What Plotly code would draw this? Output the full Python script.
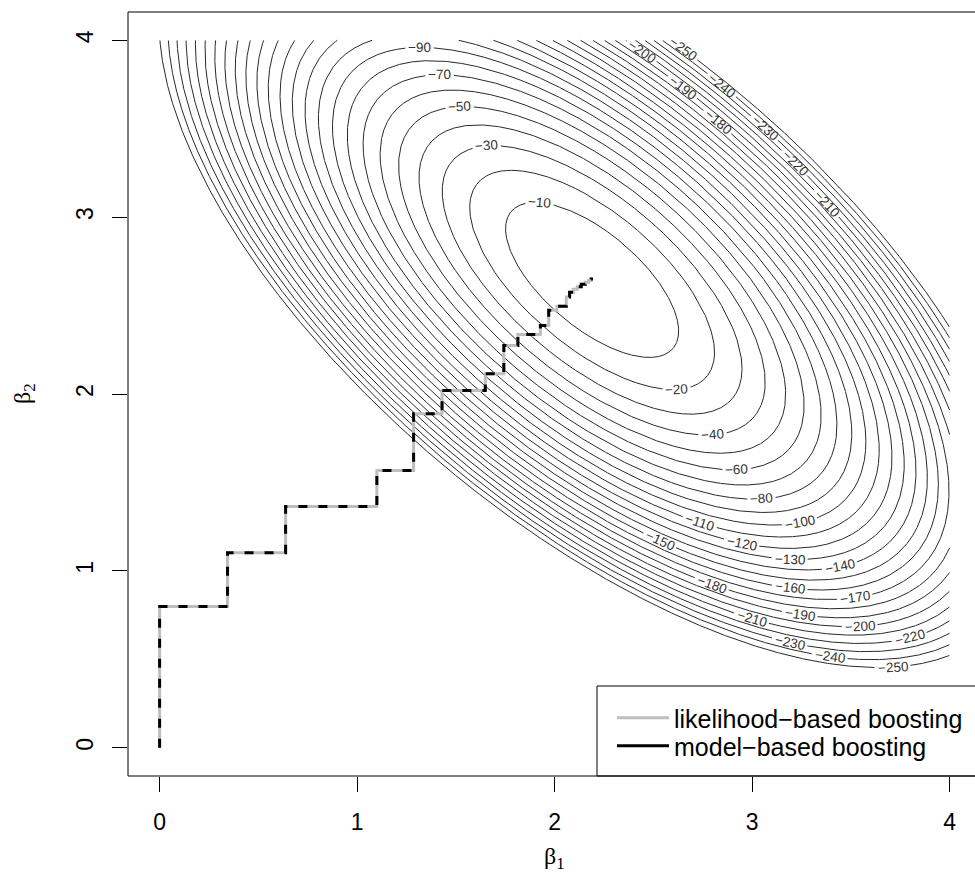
import numpy as np
import plotly.graph_objects as go

# ---- data ----
beta_hat = [2.19, 2.645]                 # maximum of the log-likelihood surface
curvature = [[184.6, 121.9],             # negative Hessian of the log-likelihood
             [121.9, 184.6]]
levels = list(range(-250, 0, 10))        # contour levels -250 ... -10
grid_lo, grid_hi = 0.0, 4.0              # region over which the surface is drawn

# boosting coefficient paths (beta1, beta2)
lik_beta1 = [0, 0, 0.344, 0.344, 0.638, 0.638, 1.100, 1.100, 1.286, 1.286, 1.430, 1.430,
             1.649, 1.649, 1.743, 1.743, 1.814, 1.814, 1.928, 1.928, 1.970, 1.970, 2.012, 2.012,
             2.059, 2.059, 2.076, 2.076, 2.095, 2.095, 2.115, 2.115, 2.135, 2.135, 2.155, 2.155,
             2.172, 2.172, 2.185, 2.185, 2.194]
lik_beta2 = [0, 0.798, 0.798, 1.103, 1.103, 1.364, 1.364, 1.567, 1.567, 1.888, 1.888, 2.020,
             2.020, 2.114, 2.114, 2.274, 2.274, 2.337, 2.337, 2.388, 2.388, 2.473, 2.473, 2.496,
             2.496, 2.548, 2.548, 2.576, 2.576, 2.592, 2.592, 2.606, 2.606, 2.620, 2.620, 2.632,
             2.632, 2.642, 2.642, 2.650, 2.650]
mb_beta1 = list(lik_beta1)
mb_beta2 = list(lik_beta2)

x_ticks = [0, 1, 2, 3, 4]
y_ticks = [0, 1, 2, 3, 4]
legend_names = ["likelihood\u2212based boosting", "model\u2212based boosting"]

# contour label placement: (level, beta1 where the label sits, branch of the ellipse)
label_levels = [-90, -70, -50, -30, -10,
                -200, -250, -190, -240, -180, -230, -220, -210,
                -20, -40, -60, -80, -100, -110, -120, -130, -140, -150,
                -160, -170, -180, -190, -200, -210, -220, -230, -240, -250]
label_b1 = [1.316, 1.418, 1.519, 1.656, 1.924,
            2.441, 2.648, 2.648, 2.846, 2.825, 3.063, 3.215, 3.377,
            2.618, 2.800, 2.922, 3.048, 3.241, 2.734, 2.947, 3.190, 3.443, 2.532,
            3.190, 3.520, 2.795, 3.241, 3.544, 2.997, 3.797, 3.190, 3.392, 3.711]
label_branch = ["u"] * 13 + ["l"] * 20

# ---- geometry ----
W, H = 975, 890
ml, mr, mt, mb = 128, 0, 12, 114
plot_w, plot_h = W - ml - mr, H - mt - mb
sx = 197.5
xr = [-0.16, -0.16 + plot_w / sx]
yr = [-0.16, 4.16]
sy = plot_h / (yr[1] - yr[0])

A = np.array(curvature)
c0 = np.array(beta_hat)
evals, evecs = np.linalg.eigh(A)


def to_px(b1, b2):
    return (b1 - xr[0]) * sx, (yr[1] - b2) * sy


def label_point(level, b1, branch):
    a, b, c = A[0, 0], A[0, 1], A[1, 1]
    dx = b1 - c0[0]
    disc = (2 * b * dx) ** 2 - 4 * c * (a * dx * dx + 2 * level)
    s = 1 if branch == "u" else -1
    dy = (-2 * b * dx + s * np.sqrt(max(disc, 0))) / (2 * c)
    b2 = c0[1] + dy
    g = A @ np.array([dx, dy])
    tx, ty = -g[1], g[0]
    pdx, pdy = tx * sx, -ty * sy
    ang = np.degrees(np.arctan2(pdy, pdx))
    if ang > 90:
        ang -= 180
    if ang < -90:
        ang += 180
    return b2, ang


labels = []
for lv, b1, br in zip(label_levels, label_b1, label_branch):
    b2, ang = label_point(lv, b1, br)
    labels.append((lv, b1, b2, ang))

LABEL_SIZE = 13.5
t = np.linspace(0, 2 * np.pi, 5000)
cx, cy = [], []
for lv in levels:
    r = np.sqrt(-2 * lv)
    u = np.vstack([np.cos(t) / np.sqrt(evals[0]), np.sin(t) / np.sqrt(evals[1])]) * r
    d = evecs @ u
    px = c0[0] + d[0]
    py = c0[1] + d[1]
    keep = (px >= grid_lo) & (px <= grid_hi) & (py >= grid_lo) & (py <= grid_hi)
    ppx, ppy = to_px(px, py)
    for (llv, lb1, lb2, _) in labels:
        if llv == lv:
            qx, qy = to_px(lb1, lb2)
            half = len(str(lv)) * 0.55 * LABEL_SIZE / 2 + 3
            keep &= np.hypot(ppx - qx, ppy - qy) > half
    if not keep.all():
        start = int(np.argmin(keep))
        px, py, keep = np.roll(px, -start), np.roll(py, -start), np.roll(keep, -start)
    for xv, yv, k in zip(px, py, keep):
        if k:
            cx.append(float(xv)); cy.append(float(yv))
        elif cx and cx[-1] is not None:
            cx.append(None); cy.append(None)
    cx.append(None); cy.append(None)

FONT = "Liberation Sans, Arial, sans-serif"

fig = go.Figure()
fig.add_trace(go.Scatter(
    x=cx, y=cy, mode="lines", line=dict(color="#2a2a2a", width=1),
    showlegend=False, hoverinfo="skip", connectgaps=False,
))
fig.add_trace(go.Scatter(
    x=lik_beta1, y=lik_beta2, mode="lines", name=legend_names[0], legend="legend",
    line=dict(color="#BEBEBE", width=3),
))
fig.add_trace(go.Scatter(
    x=mb_beta1, y=mb_beta2, mode="lines", name=legend_names[1], showlegend=False,
    line=dict(color="black", width=3, dash="9px,11px"),
))
# legend key for the model-based path (drawn solid in the key, as in the original)
fig.add_trace(go.Scatter(
    x=[None], y=[None], mode="lines", name=legend_names[1], legend="legend2",
    line=dict(color="black", width=3),
))

for lv, b1, b2, ang in labels:
    fig.add_annotation(x=b1, y=b2, xref="x", yref="y", text="\u2212" + str(abs(lv)),
                       showarrow=False, textangle=float(ang), xanchor="center", yanchor="middle",
                       font=dict(size=LABEL_SIZE, color="#333333", family=FONT))

axis_common = dict(
    showgrid=False, zeroline=False, ticks="outside", ticklen=15, tickwidth=1,
    tickcolor="black", showline=False,
    tickfont=dict(size=23, color="black", family=FONT),
)
leg_common = dict(xanchor="left", yanchor="top", bgcolor="rgba(0,0,0,0)", borderwidth=0,
                  itemwidth=52, font=dict(size=25, color="black", family=FONT))
leg_x = (612 - ml) / plot_w
fig.update_layout(
    width=W, height=H,
    margin=dict(l=ml, r=mr, t=mt, b=mb, autoexpand=False),
    plot_bgcolor="white", paper_bgcolor="white",
    xaxis=dict(range=xr, tickvals=x_ticks, ticklabelstandoff=10, **axis_common),
    yaxis=dict(range=yr, tickvals=y_ticks, tickangle=-90,
               ticklabelstandoff=10, **axis_common),
    showlegend=True,
    legend=dict(x=leg_x, y=(H - mb - 695) / plot_h, **leg_common),
    legend2=dict(x=leg_x, y=(H - mb - 723) / plot_h, **leg_common),
)
# plot box (right side runs off the page as in the original)
fig.add_shape(type="rect", xref="paper", yref="paper", x0=0, x1=1.02, y0=0, y1=1,
              line=dict(color="black", width=1), fillcolor="rgba(0,0,0,0)", layer="above")
# legend box
fig.add_shape(type="rect", xref="paper", yref="paper",
              x0=(597 - ml) / plot_w, x1=1.02, y0=0, y1=(H - mb - 686) / plot_h,
              line=dict(color="black", width=1), fillcolor="white", layer="below")
fig.add_annotation(text="\u03b2<sub>1</sub>", x=2.0, xref="x", y=(H - mb - 858) / plot_h, yref="paper",
                   xanchor="center", yanchor="middle",
                   showarrow=False, font=dict(size=24, family="Liberation Serif, serif", color="black"))
fig.add_annotation(text="\u03b2<sub>2</sub>", x=(24 - ml) / plot_w, xref="paper", y=2.0, yref="y",
                   xanchor="center", yanchor="middle",
                   showarrow=False, textangle=-90,
                   font=dict(size=24, family="Liberation Serif, serif", color="black"))

fig.write_html("out.html", config={"displayModeBar": False},
               post_script="document.body.style.margin='0px';")
